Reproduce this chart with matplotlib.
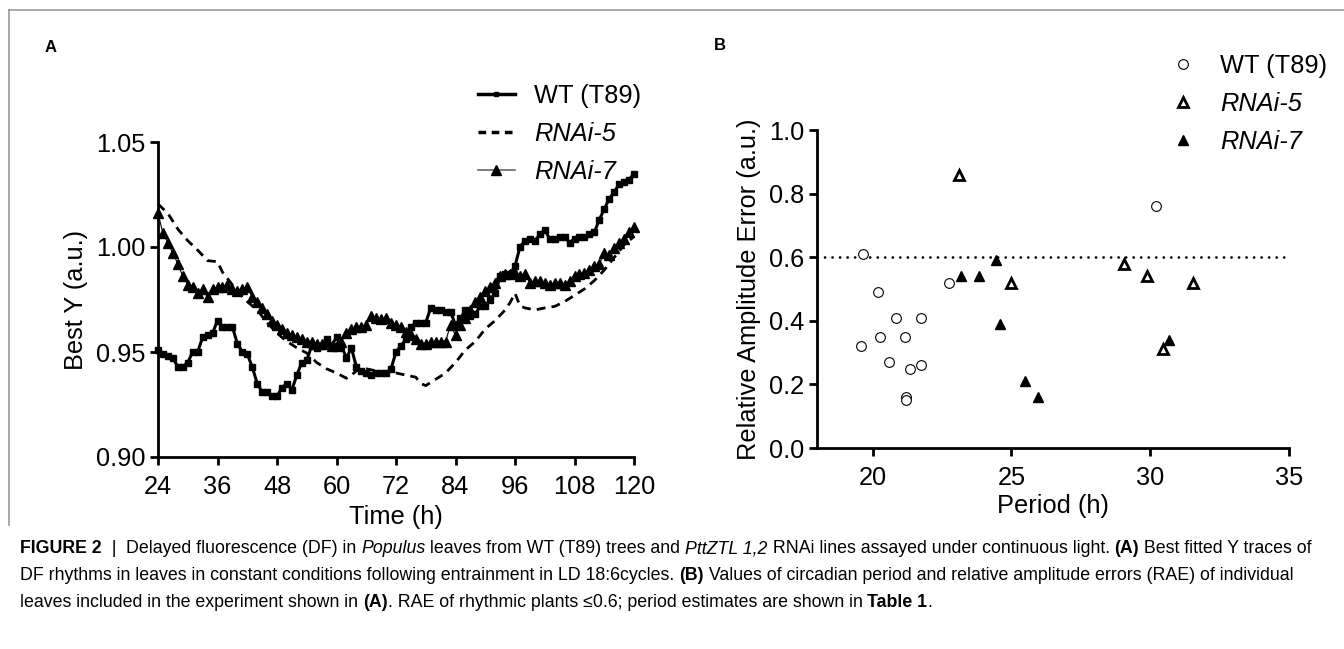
import numpy as np
import matplotlib
matplotlib.use("Agg")
import matplotlib.pyplot as plt
from matplotlib.lines import Line2D

plt.rcParams["font.family"] = ["Liberation Sans", "DejaVu Sans"]

# ---- panel A: best fitted Y traces ----
time_h = list(range(24, 121))
wt_y = [0.951, 0.949, 0.948, 0.947, 0.943, 0.943, 0.945, 0.950, 0.950, 0.957,
        0.958, 0.959, 0.965, 0.962, 0.962, 0.962, 0.954, 0.950, 0.949, 0.943,
        0.935, 0.931, 0.931, 0.929, 0.929, 0.933, 0.935, 0.932, 0.939, 0.945,
        0.946, 0.953, 0.952, 0.953, 0.956, 0.953, 0.957, 0.953, 0.947, 0.952,
        0.943, 0.941, 0.940, 0.939, 0.940, 0.940, 0.940, 0.942, 0.950, 0.953,
        0.956, 0.962, 0.964, 0.964, 0.964, 0.971, 0.970, 0.970, 0.969, 0.969,
        0.963, 0.966, 0.970, 0.967, 0.968, 0.972, 0.972, 0.975, 0.978, 0.986,
        0.987, 0.987, 0.991, 1.000, 1.003, 1.004, 1.003, 1.006, 1.008, 1.004,
        1.004, 1.005, 1.005, 1.002, 1.004, 1.005, 1.005, 1.006, 1.007, 1.013,
        1.018, 1.023, 1.026, 1.030, 1.031, 1.032, 1.035]
rnai7_y = [1.016, 1.0065, 1.002, 0.997, 0.992, 0.986, 0.982, 0.981, 0.978, 0.980,
           0.976, 0.980, 0.981, 0.981, 0.982, 0.980, 0.979, 0.980, 0.981, 0.976,
           0.974, 0.971, 0.968, 0.965, 0.963, 0.961, 0.959, 0.958, 0.957, 0.956,
           0.955, 0.955, 0.954, 0.954, 0.955, 0.953, 0.953, 0.955, 0.959, 0.961,
           0.962, 0.962, 0.963, 0.967, 0.966, 0.9655, 0.966, 0.964, 0.963, 0.962,
           0.9595, 0.958, 0.956, 0.954, 0.954, 0.955, 0.955, 0.955, 0.955, 0.963,
           0.958, 0.963, 0.966, 0.970, 0.974, 0.976, 0.979, 0.981, 0.983, 0.986,
           0.987, 0.987, 0.9875, 0.986, 0.987, 0.983, 0.984, 0.984, 0.983, 0.982,
           0.983, 0.983, 0.982, 0.984, 0.986, 0.987, 0.9875, 0.989, 0.991, 0.992,
           0.997, 0.996, 0.9995, 1.002, 1.004, 1.007, 1.0095]
rnai5_t = [24, 26, 28, 30, 32, 34, 36, 37, 38, 40, 42, 44, 46, 48, 50, 52, 54, 56,
           58, 60, 62, 63, 64, 66, 68, 70, 72, 74, 76, 77, 78, 80, 82, 84, 86, 88,
           90, 92, 94, 95, 96, 97, 98, 100, 102, 104, 106, 108, 110, 112, 114, 116,
           118, 120]
rnai5_y = [1.0205, 1.016, 1.0085, 1.003, 0.9985, 0.9935, 0.993, 0.988, 0.985, 0.979,
           0.974, 0.970, 0.964, 0.959, 0.955, 0.952, 0.9495, 0.945, 0.942, 0.940,
           0.9375, 0.939, 0.941, 0.942, 0.941, 0.940, 0.940, 0.939, 0.938, 0.935,
           0.934, 0.937, 0.940, 0.945, 0.951, 0.955, 0.961, 0.965, 0.970, 0.9735,
           0.978, 0.972, 0.971, 0.970, 0.971, 0.9717, 0.974, 0.977, 0.980, 0.984,
           0.989, 0.995, 1.001, 1.005]

# ---- panel B: period vs relative amplitude error ----
wt_period = [19.65, 19.6, 20.2, 20.26, 20.58, 20.83, 21.18, 21.34, 21.19, 21.21,
             21.76, 21.75, 22.76, 30.2]
wt_rae = [0.61, 0.32, 0.49, 0.35, 0.27, 0.41, 0.35, 0.25, 0.16, 0.15,
          0.41, 0.26, 0.52, 0.76]
r5_period = [23.1, 24.99, 29.05, 29.9, 30.45, 31.55]
r5_rae = [0.86, 0.52, 0.58, 0.54, 0.31, 0.52]
r7_period = [23.17, 23.82, 24.44, 24.6, 25.49, 25.96, 30.66]
r7_rae = [0.54, 0.54, 0.59, 0.39, 0.21, 0.16, 0.34]
rae_cutoff = 0.6

W, H = 1344, 649
TICK_FS = 18.3


def style_axis(ax):
    for side in ("top", "right"):
        ax.spines[side].set_visible(False)
    for side in ("left", "bottom"):
        ax.spines[side].set_linewidth(2.0)
    ax.tick_params(direction="out", length=6, width=2.0, labelsize=TICK_FS)
    ax.tick_params(axis="x", pad=7)
    ax.tick_params(axis="y", pad=3)


def fig_box(left, top, right, bottom):
    return [left / W, 1 - bottom / H, (right - left) / W, (bottom - top) / H]


def rich_line(fig, x, y, pieces, size):
    prev = None
    anchor_ax = fig.axes[0]
    for txt, style in pieces:
        kw = dict(fontsize=size, va="baseline", ha="left")
        if "b" in style:
            kw["fontweight"] = "bold"
        if "i" in style:
            kw["fontstyle"] = "italic"
        if prev is None:
            prev = fig.text(x / W, 1 - y / H, txt, **kw)
        else:
            prev = anchor_ax.annotate(txt, xy=(1, 0), xycoords=prev,
                                      annotation_clip=False, **kw)
            prev.set_va("bottom")


fig = plt.figure(figsize=(W / 100, H / 100), dpi=100)

# panel A
axA = fig.add_axes(fig_box(158, 142, 634, 457))
style_axis(axA)
axA.plot(time_h, wt_y, "-", color="black", lw=2.2, marker="s", ms=4.4, clip_on=False)
axA.plot(rnai5_t, rnai5_y, color="black", lw=2.0, ls=(0, (3.2, 2.2)), clip_on=False)
axA.plot(time_h, rnai7_y, "-", color="black", lw=0.8, marker="^", ms=6.5, clip_on=False)
axA.set_xlim(24, 120)
axA.set_ylim(0.90, 1.05)
axA.set_xticks(np.arange(24, 121, 12))
axA.set_yticks([0.90, 0.95, 1.00, 1.05])
axA.set_yticklabels(["0.90", "0.95", "1.00", "1.05"])
axA.set_xlabel("Time (h)", fontsize=TICK_FS, labelpad=4)
axA.set_ylabel("Best Y (a.u.)", fontsize=TICK_FS, labelpad=6)

leg_handles = [
    Line2D([], [], color="black", lw=2.5, marker="s", ms=3.5),
    Line2D([], [], color="black", lw=2.5, ls=(0, (2.2, 1.6))),
    Line2D([], [], color="#666666", lw=1.2, marker="^", ms=6.5, mfc="black", mec="black"),
]
legA = axA.legend(leg_handles, ["WT (T89)", "RNAi-5", "RNAi-7"], loc="upper left",
                  bbox_to_anchor=(478 / W, 1 - 84 / H), bbox_transform=fig.transFigure,
                  frameon=False, fontsize=TICK_FS, handlelength=1.45, handletextpad=0.75,
                  labelspacing=0.55, borderpad=0, borderaxespad=0)
for t in legA.get_texts()[1:]:
    t.set_fontstyle("italic")

# panel B
axB = fig.add_axes(fig_box(817, 130, 1289, 448))
style_axis(axB)
axB.plot([18, 35], [rae_cutoff, rae_cutoff], color="black", lw=2.0,
         ls=(0, (0.01, 2.7)), dash_capstyle="round")
hw, = axB.plot(wt_period, wt_rae, ls="none", marker="o", ms=7, mfc="white",
               mec="black", mew=0.8, clip_on=False)
h5, = axB.plot(r5_period, r5_rae, ls="none", marker="^", ms=6.5, mfc="white",
               mec="black", mew=2.0, clip_on=False)
h7, = axB.plot(r7_period, r7_rae, ls="none", marker="^", ms=7, color="black",
               clip_on=False)
axB.set_xlim(18, 35)
axB.set_ylim(0, 1.0)
axB.set_xticks([20, 25, 30, 35])
axB.set_yticks(np.arange(0, 1.01, 0.2))
axB.set_yticklabels([f"{v:.1f}" for v in np.arange(0, 1.01, 0.2)])
axB.set_xlabel("Period (h)", fontsize=TICK_FS, labelpad=3)
axB.set_ylabel("Relative Amplitude Error (a.u.)", fontsize=TICK_FS, labelpad=6)
legB = axB.legend([hw, h5, h7], ["WT (T89)", "RNAi-5", "RNAi-7"], loc="upper left",
                  bbox_to_anchor=(1172 / W, 1 - 54 / H), bbox_transform=fig.transFigure,
                  frameon=False, fontsize=TICK_FS, handlelength=0.9, handletextpad=1.0,
                  labelspacing=0.55, borderpad=0, borderaxespad=0)
for t in legB.get_texts()[1:]:
    t.set_fontstyle("italic")

# panel letters
fig.text(51 / W, 1 - 47 / H, "A", fontsize=12, fontweight="bold", ha="center", va="center")
fig.text(720 / W, 1 - 45 / H, "B", fontsize=12, fontweight="bold", ha="center", va="center")

# grey frame around the figure panels
fig.add_artist(Line2D([9 / W, 1], [1 - 10 / H, 1 - 10 / H], transform=fig.transFigure,
                      color="#9a9a9a", lw=1.2))
fig.add_artist(Line2D([9 / W, 9 / W], [1 - 10 / H, 1 - 525 / H], transform=fig.transFigure,
                      color="#9a9a9a", lw=1.2))

# caption
CAP = 12.8
rich_line(fig, 20, 553, [
    ("FIGURE 2", "b"), ("  |  ", ""), ("Delayed fluorescence (DF) in ", ""),
    ("Populus", "i"), (" leaves from WT (T89) trees and ", ""), ("PttZTL 1,2", "i"),
    (" RNAi lines assayed under continuous light. ", ""), ("(A)", "b"),
    (" Best fitted Y traces of", ""),
], CAP)
rich_line(fig, 20, 580, [
    ("DF rhythms in leaves in constant conditions following entrainment in LD 18:6cycles. ", ""),
    ("(B)", "b"),
    (" Values of circadian period and relative amplitude errors (RAE) of individual", ""),
], CAP)
rich_line(fig, 20, 607, [
    ("leaves included in the experiment shown in ", ""), ("(A)", "b"),
    (". RAE of rhythmic plants \u22640.6; period estimates are shown in ", ""),
    ("Table 1", "b"), (".", ""),
], CAP)

fig.savefig("out.png", dpi=100)
